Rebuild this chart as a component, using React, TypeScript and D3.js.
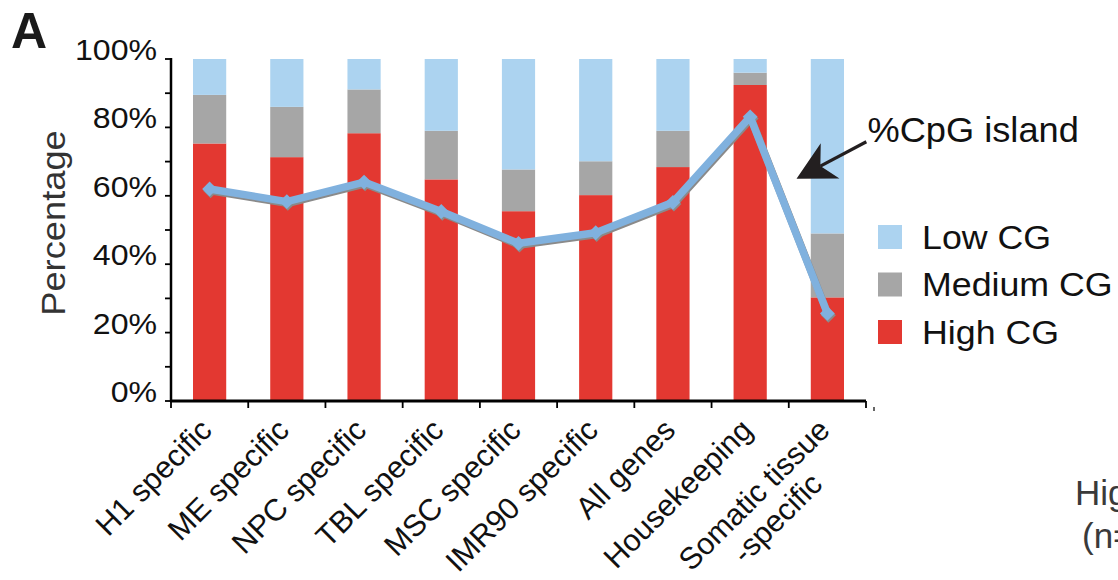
import React, { useEffect, useRef } from "react";
import * as d3 from "d3";

// Gene sets along the x axis ("\n" splits a label into two lines)
const categories = [
  "H1 specific",
  "ME specific",
  "NPC specific",
  "TBL specific",
  "MSC specific",
  "IMR90 specific",
  "All genes",
  "Housekeeping",
  "Somatic tissue\n-specific",
];

// Promoter CG class composition (percent of genes)
const highCG = [75.3, 71.3, 78.3, 64.8, 55.5, 60.2, 68.4, 92.4, 30.3];
const mediumCG = [14.2, 14.7, 12.8, 14.2, 12.2, 9.9, 10.6, 3.6, 18.7];
const lowCG = highCG.map((h, i) => +(100 - h - mediumCG[i]).toFixed(1));

// Percentage of promoters overlapping a CpG island
const cpgIsland = [62.0, 58.3, 64.0, 55.4, 46.1, 49.2, 58.1, 83.1, 25.6];

const yTicks = [0, 10, 20, 30, 40, 50, 60, 70, 80, 90, 100];
const yTickLabels = [0, 20, 40, 60, 80, 100];

const seriesNames = ["Low CG", "Medium CG", "High CG"];
const seriesColors: Record<string, string> = {
  "Low CG": "#acd3f0",
  "Medium CG": "#a6a6a6",
  "High CG": "#e33831",
};

const W = 1118;
const H = 580;
const FONT = "'Liberation Sans', Arial, Helvetica, sans-serif";

export default function App() {
  const ref = useRef<SVGSVGElement | null>(null);

  useEffect(() => {
    const svg = d3.select(ref.current);
    svg.selectAll("*").remove();

    // text helper: places a (slightly widened) label at x, y
    const addText = (
      parent: any,
      x: number,
      y: number,
      str: string,
      size: number,
      opts: { anchor?: string; stretch?: number; rotate?: number; fill?: string; weight?: string } = {}
    ) =>
      parent
        .append("text")
        .attr(
          "transform",
          `translate(${x},${y})` +
            (opts.rotate ? ` rotate(${opts.rotate})` : "") +
            ` scale(${opts.stretch ?? 1},1)`
        )
        .attr("text-anchor", opts.anchor ?? "start")
        .attr("font-family", FONT)
        .attr("font-size", size)
        .attr("font-weight", opts.weight ?? "normal")
        .attr("fill", opts.fill ?? "#111")
        .text(str);

    const x = d3
      .scaleBand<string>()
      .domain(categories)
      .range([171, 866])
      .paddingInner(0.57)
      .paddingOuter(0.285);
    const y = d3.scaleLinear().domain([0, 100]).range([401, 59]);
    const step = x.step();
    const cx = (c: string) => (x(c) as number) + x.bandwidth() / 2;

    // Stacked bars: High at the bottom, then Medium, then Low
    const rows = categories.map((c, i) => ({
      cat: c,
      "High CG": highCG[i],
      "Medium CG": mediumCG[i],
      "Low CG": lowCG[i],
    }));
    const stack = d3.stack<any>().keys(["High CG", "Medium CG", "Low CG"])(rows);

    const bars = svg.append("g");
    stack.forEach((layer) => {
      bars
        .append("g")
        .attr("fill", seriesColors[layer.key])
        .selectAll("rect")
        .data(layer)
        .join("rect")
        .attr("x", (d: any) => x(d.data.cat) as number)
        .attr("width", x.bandwidth())
        .attr("y", (d: any) => y(d[1]))
        .attr("height", (d: any) => y(d[0]) - y(d[1]));
    });

    // %CpG island line with a soft grey drop shadow
    const pts: [number, number][] = categories.map((c, i) => [cx(c), y(cpgIsland[i])]);
    const line = d3.line();
    const diamond = d3.symbol().type(d3.symbolSquare).size(110);

    const shadow = svg.append("g").attr("transform", "translate(1,1.8)");
    shadow
      .append("path")
      .attr("d", line(pts))
      .attr("fill", "none")
      .attr("stroke", "#8a8a8a")
      .attr("stroke-width", 7.5)
      .attr("stroke-linejoin", "round");
    shadow
      .selectAll("path.m")
      .data(pts)
      .join("path")
      .attr("class", "m")
      .attr("d", diamond() as string)
      .attr("transform", (p) => `translate(${p[0]},${p[1]}) rotate(45)`)
      .attr("fill", "#8a8a8a");

    svg
      .append("path")
      .attr("d", line(pts))
      .attr("fill", "none")
      .attr("stroke", "#80b1de")
      .attr("stroke-width", 7.5)
      .attr("stroke-linejoin", "round");
    svg
      .append("g")
      .selectAll("path")
      .data(pts)
      .join("path")
      .attr("d", diamond() as string)
      .attr("transform", (p) => `translate(${p[0]},${p[1]}) rotate(45)`)
      .attr("fill", "#80b1de");

    // Y axis
    const ya = svg.append("g").attr("stroke", "#000");
    ya.append("line")
      .attr("x1", 171)
      .attr("x2", 171)
      .attr("y1", y(100) - 1)
      .attr("y2", y(0) + 1)
      .attr("stroke-width", 2.5);
    ya.selectAll("line.t")
      .data(yTicks)
      .join("line")
      .attr("class", "t")
      .attr("x1", 165)
      .attr("x2", 171)
      .attr("y1", (d) => y(d))
      .attr("y2", (d) => y(d))
      .attr("stroke-width", 1.8);
    const yl = svg.append("g");
    yTickLabels.forEach((v) => addText(yl, 157, y(v) + 1, `${v}%`, 30, { anchor: "end", stretch: 1.07 }));

    // X axis with ticks at band boundaries
    const xa = svg.append("g").attr("stroke", "#000");
    xa.append("line")
      .attr("x1", 170)
      .attr("x2", 866)
      .attr("y1", y(0))
      .attr("y2", y(0))
      .attr("stroke-width", 3);
    const bounds = d3.range(categories.length + 1).map((i) => 171 + i * step);
    xa.selectAll("line.t")
      .data(bounds)
      .join("line")
      .attr("class", "t")
      .attr("x1", (d) => d)
      .attr("x2", (d) => d)
      .attr("y1", y(0))
      .attr("y2", y(0) + 7)
      .attr("stroke-width", 1.8);
    xa.append("line")
      .attr("x1", 874)
      .attr("x2", 874)
      .attr("y1", y(0) + 6)
      .attr("y2", y(0) + 10)
      .attr("stroke-width", 1.2);

    // Rotated category labels, ending just under each bar
    const labels = svg.append("g");
    categories.forEach((c) => {
      const lines = c.split("\n");
      const g = labels
        .append("g")
        .attr("transform", `translate(${cx(c) + 4},${y(0) + 31}) rotate(-45)`);
      const first = g
        .append("text")
        .attr("text-anchor", "end")
        .attr("font-family", FONT)
        .attr("font-size", 30.5)
        .attr("fill", "#111")
        .text(lines[0]);
      if (lines.length > 1) {
        const w = (first.node() as SVGTextElement).getComputedTextLength();
        g.append("text")
          .attr("x", -w / 2)
          .attr("y", 33)
          .attr("text-anchor", "middle")
          .attr("font-family", FONT)
          .attr("font-size", 30.5)
          .attr("fill", "#111")
          .text(lines[1]);
      }
    });

    // Y axis title
    addText(svg, 65, 223, "Percentage", 33, { anchor: "middle", rotate: -90, stretch: 1.1, fill: "#333" });

    // Panel letter
    addText(svg, 11, 48, "A", 50, { weight: "bold", fill: "#1a1a1a" });

    // Annotation arrow pointing at the line
    const tipX = cx(categories[7]) + 0.6 * step;
    const tipY = y(65);
    const ang = Math.atan2(-37, 70); // direction from tip back towards the label
    const ux = Math.cos(ang);
    const uy = Math.sin(ang);
    const px = -uy;
    const py = ux;
    const headLen = 38;
    const halfW = 20;
    const notch = 27;
    const arrow = svg.append("g").attr("fill", "#231f20").attr("stroke", "#231f20");
    arrow
      .append("line")
      .attr("x1", tipX + ux * notch)
      .attr("y1", tipY + uy * notch)
      .attr("x2", tipX + ux * 79)
      .attr("y2", tipY + uy * 79)
      .attr("stroke-width", 3.2);
    arrow
      .append("path")
      .attr("stroke", "none")
      .attr(
        "d",
        `M${tipX},${tipY}` +
          `L${tipX + ux * headLen + px * halfW},${tipY + uy * headLen + py * halfW}` +
          `L${tipX + ux * notch},${tipY + uy * notch}` +
          `L${tipX + ux * headLen - px * halfW},${tipY + uy * headLen - py * halfW}Z`
      );
    addText(svg, tipX + 71, y(75.6), "%CpG island", 34.5, { stretch: 1.05 });

    // Legend
    const lg = svg.append("g");
    seriesNames.forEach((s, i) => {
      const top = 225 + i * 47.5;
      lg.append("rect")
        .attr("x", 878)
        .attr("y", top)
        .attr("width", 24)
        .attr("height", 24)
        .attr("fill", seriesColors[s]);
      addText(lg, 922, top + 23.5, s, 32.5, { stretch: 1.1 });
    });

    // Neighbouring panel text running off the right edge
    const side = svg.append("g");
    addText(side, 1075, 505, "High", 35, { fill: "#3a3a3a" });
    addText(side, 1082, 548, "(n=", 35, { fill: "#3a3a3a" });
  }, []);

  return (
    <svg
      ref={ref}
      width={W}
      height={H}
      viewBox={`0 0 ${W} ${H}`}
      style={{ position: "absolute", left: 0, top: 0, background: "#fff" }}
    />
  );
}
